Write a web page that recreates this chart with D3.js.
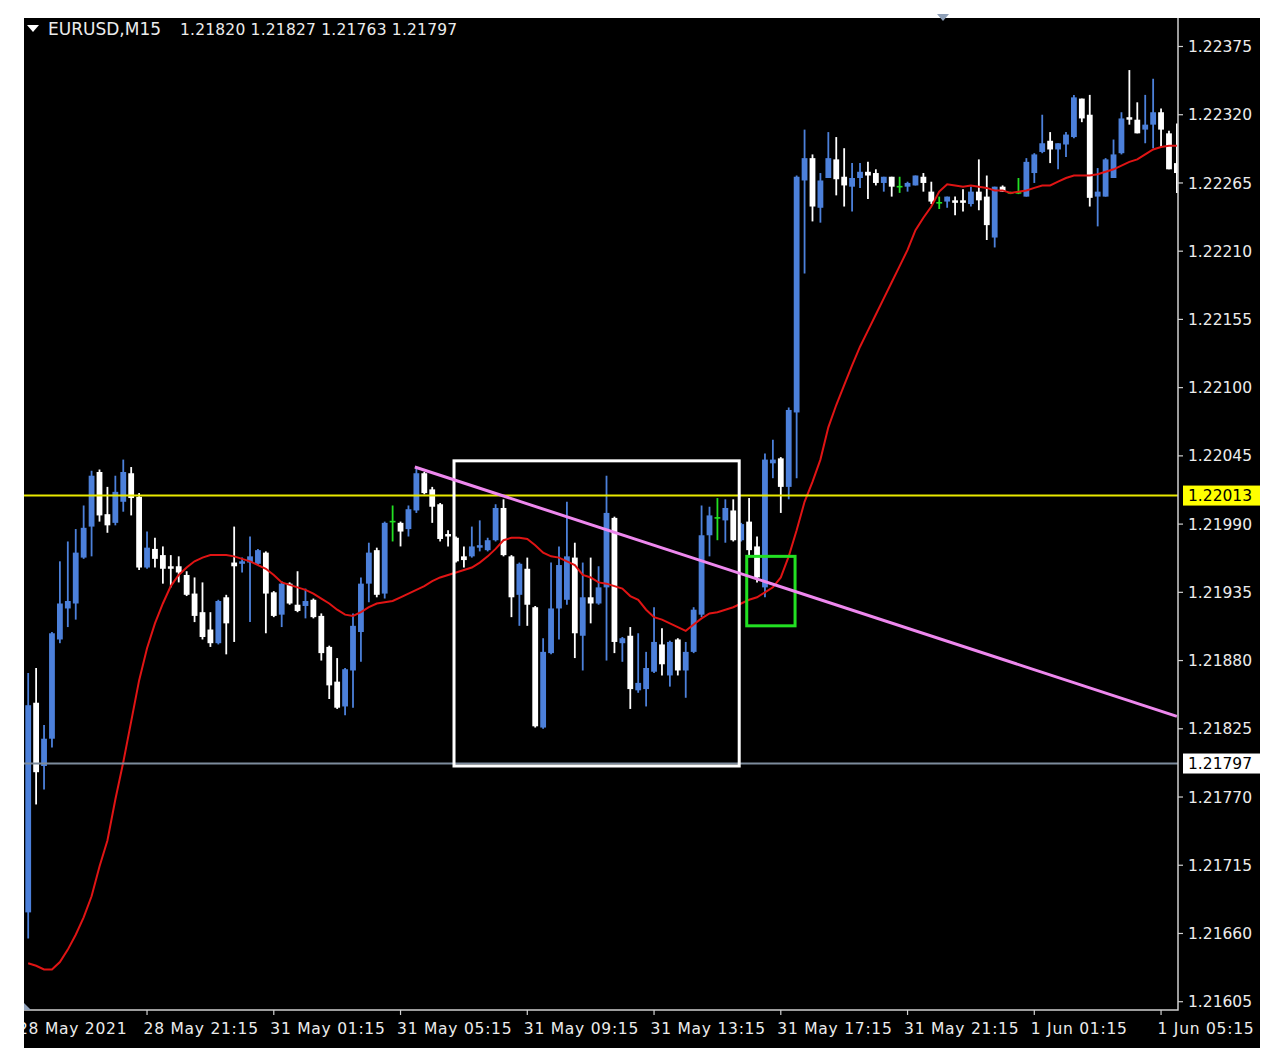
<!DOCTYPE html>
<html><head><meta charset="utf-8">
<script src="https://cdn.jsdelivr.net/npm/d3@7"></script>
<style>body{margin:0;background:#fff;} svg{display:block;} text{white-space:pre;}</style>
</head><body>
<svg id="c" width="1282" height="1064"></svg>
<script>
// ---- data (EURUSD M15, bar index 0 = 28 May 17:30) ----
const opens = [1.21677,1.21846,1.21795,1.21817,1.21897,1.21922,1.21926,1.21963,1.21988,1.22032,
1.21998,1.21991,1.22008,1.22031,1.22012,1.21955,1.21970,1.21965,1.21956,1.21956,
1.21949,1.21934,1.21919,1.21905,1.21894,1.21931,1.21959,1.21958,1.21959,1.21958,
1.21967,1.21935,1.21917,1.21942,1.21925,1.21924,1.21929,1.21916,1.21891,1.21863,
1.21843,1.21872,1.21903,1.21942,1.21969,1.21934,1.21992,1.21991,1.21986,1.22001,
1.22031,1.22018,1.22006,1.21982,1.21979,1.21964,1.21964,1.21971,1.21969,1.21977,
1.22003,1.21964,1.21933,1.21954,1.21923,1.21826,1.21886,1.21922,1.21929,1.21963,
1.21900,1.21931,1.21926,1.21939,1.21995,1.21894,1.21900,1.21856,1.21857,1.21871,
1.21893,1.21868,1.21897,1.21872,1.21887,1.21917,1.21981,1.21995,1.21993,1.22001,
1.21977,1.21992,1.21972,1.21939,1.22039,1.22043,1.22020,1.22080,1.22267,1.22285,
1.22245,1.22269,1.22284,1.22270,1.22262,1.22269,1.22274,1.22273,1.22265,1.22270,
1.22262,1.22262,1.22263,1.22270,1.22258,1.22249,1.22250,1.22251,1.22251,1.22248,
1.22258,1.22254,1.22221,1.22262,1.22257,1.22257,1.22254,1.22273,1.22290,1.22299,
1.22292,1.22296,1.22302,1.22333,1.22320,1.22254,1.22254,1.22269,1.22289,1.22318,
1.22316,1.22308,1.22312,1.22322,1.22305,1.22281];
const highs = [1.21870,1.21874,1.21828,1.21903,1.21960,1.21976,1.21986,1.22005,1.22033,1.22034,
1.22020,1.22029,1.22042,1.22036,1.22015,1.21984,1.21979,1.21972,1.21965,1.21964,
1.21952,1.21947,1.21943,1.21919,1.21929,1.21933,1.21988,1.21963,1.21980,1.21970,
1.21968,1.21936,1.21944,1.21943,1.21952,1.21938,1.21930,1.21918,1.21892,1.21882,
1.21874,1.21918,1.21947,1.21975,1.21971,1.21992,1.22005,1.21992,1.22005,1.22036,
1.22032,1.22020,1.22007,1.21985,1.21980,1.21972,1.21988,1.21993,1.21979,1.22006,
1.22010,1.21965,1.21959,1.21963,1.21924,1.21898,1.21959,1.21972,1.22008,1.21975,
1.21959,1.21963,1.21956,1.22029,1.21996,1.21899,1.21907,1.21902,1.21887,1.21923,
1.21906,1.21896,1.21898,1.21895,1.21923,1.22005,1.22004,1.22011,1.22010,1.22010,
1.21991,1.22011,1.21980,1.22047,1.22058,1.22044,1.22084,1.22271,1.22308,1.22288,
1.22273,1.22306,1.22302,1.22293,1.22281,1.22281,1.22282,1.22276,1.22270,1.22270,
1.22270,1.22266,1.22271,1.22273,1.22266,1.22254,1.22254,1.22254,1.22260,1.22262,
1.22284,1.22271,1.22262,1.22263,1.22258,1.22269,1.22285,1.22289,1.22320,1.22306,
1.22297,1.22306,1.22336,1.22333,1.22336,1.22277,1.22285,1.22300,1.22322,1.22356,
1.22330,1.22336,1.22349,1.22325,1.22307,1.22313];
const lows = [1.21656,1.21764,1.21776,1.21810,1.21894,1.21907,1.21913,1.21962,1.21964,1.21992,
1.21983,1.21989,1.22000,1.21997,1.21953,1.21954,1.21955,1.21942,1.21939,1.21943,
1.21932,1.21911,1.21897,1.21891,1.21893,1.21885,1.21895,1.21951,1.21911,1.21957,
1.21902,1.21915,1.21907,1.21925,1.21919,1.21914,1.21914,1.21880,1.21849,1.21841,
1.21836,1.21842,1.21879,1.21927,1.21931,1.21930,1.21976,1.21972,1.21980,1.21999,
1.22014,1.21991,1.21976,1.21972,1.21959,1.21955,1.21963,1.21968,1.21968,1.21976,
1.21964,1.21915,1.21908,1.21908,1.21826,1.21825,1.21885,1.21897,1.21925,1.21882,
1.21872,1.21910,1.21925,1.21880,1.21886,1.21879,1.21841,1.21854,1.21843,1.21870,
1.21868,1.21859,1.21868,1.21850,1.21886,1.21915,1.21964,1.21977,1.21975,1.21976,
1.21976,1.21965,1.21943,1.21931,1.22027,1.21999,1.22010,1.22027,1.22192,1.22234,
1.22233,1.22269,1.22255,1.22246,1.22242,1.22261,1.22252,1.22263,1.22258,1.22254,
1.22257,1.22258,1.22263,1.22258,1.22248,1.22244,1.22245,1.22239,1.22242,1.22246,
1.22243,1.22219,1.22213,1.22258,1.22256,1.22256,1.22254,1.22265,1.22289,1.22281,
1.22276,1.22286,1.22301,1.22314,1.22246,1.22230,1.22254,1.22269,1.22288,1.22312,
1.22305,1.22297,1.22293,1.22294,1.22276,1.22257];
const closes = [1.21844,1.21790,1.21817,1.21902,1.21926,1.21928,1.21967,1.21987,1.22029,1.21997,
1.21989,1.22016,1.22032,1.22011,1.21955,1.21971,1.21962,1.21954,1.21954,1.21951,
1.21933,1.21916,1.21899,1.21894,1.21928,1.21910,1.21956,1.21960,1.21964,1.21969,
1.21934,1.21916,1.21942,1.21926,1.21920,1.21928,1.21915,1.21886,1.21860,1.21842,
1.21873,1.21908,1.21942,1.21967,1.21933,1.21991,1.21992,1.21984,1.22002,1.22031,
1.22015,1.22004,1.21978,1.21980,1.21960,1.21961,1.21972,1.21973,1.21977,1.22003,
1.21965,1.21931,1.21958,1.21925,1.21827,1.21887,1.21922,1.21957,1.21964,1.21902,
1.21931,1.21926,1.21939,1.21999,1.21895,1.21898,1.21857,1.21862,1.21874,1.21895,
1.21877,1.21895,1.21872,1.21887,1.21921,1.21981,1.21997,1.21995,1.22003,1.21977,
1.21990,1.21969,1.21947,1.22042,1.22042,1.22020,1.22082,1.22270,1.22285,1.22246,
1.22267,1.22285,1.22268,1.22263,1.22269,1.22274,1.22271,1.22265,1.22270,1.22262,
1.22262,1.22265,1.22271,1.22265,1.22250,1.22249,1.22254,1.22249,1.22249,1.22258,
1.22251,1.22231,1.22262,1.22258,1.22257,1.22257,1.22282,1.22288,1.22297,1.22292,
1.22297,1.22304,1.22334,1.22317,1.22253,1.22258,1.22284,1.22288,1.22317,1.22316,
1.22305,1.22312,1.22322,1.22308,1.22276,1.22273];
const maValues = [1.21636,1.21634,1.21631,1.21631,1.21637,1.21647,1.21659,1.21673,1.21690,1.21714,
1.21735,1.21768,1.21798,1.21831,1.21864,1.21890,1.21910,1.21926,1.21940,1.21949,
1.21955,1.21960,1.21963,1.21965,1.21965,1.21965,1.21964,1.21962,1.21960,1.21957,
1.21954,1.21949,1.21943,1.21941,1.21939,1.21937,1.21934,1.21930,1.21926,1.21921,
1.21917,1.21916,1.21919,1.21923,1.21926,1.21927,1.21928,1.21931,1.21934,1.21937,
1.21940,1.21944,1.21947,1.21949,1.21951,1.21953,1.21955,1.21959,1.21964,1.21970,
1.21977,1.21979,1.21979,1.21978,1.21973,1.21967,1.21964,1.21963,1.21960,1.21957,
1.21949,1.21947,1.21943,1.21942,1.21940,1.21938,1.21932,1.21929,1.21921,1.21915,
1.21913,1.21910,1.21907,1.21904,1.21909,1.21914,1.21918,1.21919,1.21921,1.21923,
1.21926,1.21929,1.21931,1.21935,1.21939,1.21947,1.21964,1.21985,1.22008,1.22024,
1.22042,1.22068,1.22086,1.22102,1.22118,1.22133,1.22146,1.22159,1.22172,1.22185,
1.22198,1.22211,1.22227,1.22237,1.22246,1.22258,1.22264,1.22263,1.22262,1.22263,
1.22262,1.22261,1.22259,1.22259,1.22257,1.22258,1.22259,1.22261,1.22263,1.22263,
1.22266,1.22269,1.22271,1.22271,1.22271,1.22272,1.22274,1.22276,1.22279,1.22282,
1.22284,1.22288,1.22292,1.22294,1.22295,1.22295];

const yTickValues = [1.21605,1.21660,1.21715,1.21770,1.21825,1.21880,1.21935,1.21990,1.22045,1.22100,1.22155,1.22210,1.22265,1.22320,1.22375];
const xTickIndex = [15,31,47,63,79,95,111,127,143];
const xTickLabels = ["28 May 21:15","31 May 01:15","31 May 05:15","31 May 09:15","31 May 13:15","31 May 17:15","31 May 21:15","1 Jun 01:15","1 Jun 05:15"];
const firstLabel = "28 May 2021";
const titleSymbol = "EURUSD,M15";
const titlePrices = "1.21820 1.21827 1.21763 1.21797";
const hLinePrices = [1.22013, 1.21797];
const trendIdx = [48.8, 145], trendPrice = [1.22036, 1.21835];
const whiteRectIdx = [53.75, 89.75], whiteRectPrice = [1.22041, 1.21795];
const greenRectIdx = [90.7, 96.8], greenRectPrice = [1.21964, 1.21908];

(function () {
// ---- layout ----
const svg = d3.select('#c');
const L = 24, T = 18, axisX = 1178, axisY = 1010, R = 1260, B = 1048;
const FONT = "'DejaVu Sans',sans-serif";
const FS = 15.5;

svg.append('rect').attr('x', L).attr('y', T).attr('width', R-L).attr('height', B-T).attr('fill', '#000');

const x = d3.scaleLinear().domain([0, 145]).range([28.2, 1176.9]);
const y = d3.scaleLinear().domain([1.21605, 1.22375]).range([1001.7, 46.5]);

const defs = svg.append('defs');
defs.append('clipPath').attr('id','plot').append('rect')
  .attr('x', L).attr('y', T).attr('width', axisX-L).attr('height', axisY-T);
defs.append('clipPath').attr('id','all').append('rect')
  .attr('x', L).attr('y', T).attr('width', R-L).attr('height', B-T);

const plot = svg.append('g').attr('clip-path','url(#plot)');

const BLUE = '#4c80da', WHITE = '#ffffff', GREEN = '#22e022';
const bars = d3.range(opens.length).map(i => ({i, o: opens[i], h: highs[i], l: lows[i], c: closes[i]}));
const col = d => d.c > d.o ? BLUE : (d.c < d.o ? WHITE : GREEN);

// candles
const cg = plot.append('g');
cg.selectAll('line.wick').data(bars).join('line')
  .attr('x1', d => x(d.i)).attr('x2', d => x(d.i))
  .attr('y1', d => y(d.h)).attr('y2', d => y(d.l))
  .attr('stroke', col).attr('stroke-width', 1.8);
const bw = 5.8;
cg.selectAll('rect.body').data(bars).join('rect')
  .attr('x', d => x(d.i) - bw/2).attr('width', bw)
  .attr('y', d => Math.min(y(d.o), y(d.c)) - (d.o === d.c ? 0.8 : 0))
  .attr('height', d => Math.max(1.6, Math.abs(y(d.o) - y(d.c))))
  .attr('fill', col);

// moving average
plot.append('path').datum(maValues)
  .attr('d', d3.line().x((d,i) => x(i)).y(d => y(d)))
  .attr('fill', 'none').attr('stroke', '#e01414').attr('stroke-width', 2);

// horizontal lines
plot.append('line').attr('x1', L).attr('x2', axisX).attr('y1', y(hLinePrices[0])).attr('y2', y(hLinePrices[0]))
  .attr('stroke', '#e8e800').attr('stroke-width', 2);
plot.append('line').attr('x1', L).attr('x2', axisX).attr('y1', y(hLinePrices[1])).attr('y2', y(hLinePrices[1]))
  .attr('stroke', '#7d8b9c').attr('stroke-width', 2);

// rectangles
plot.append('rect')
  .attr('x', x(whiteRectIdx[0])).attr('y', y(whiteRectPrice[0]))
  .attr('width', x(whiteRectIdx[1]) - x(whiteRectIdx[0])).attr('height', y(whiteRectPrice[1]) - y(whiteRectPrice[0]))
  .attr('fill','none').attr('stroke','#ffffff').attr('stroke-width',3);
plot.append('rect')
  .attr('x', x(greenRectIdx[0])).attr('y', y(greenRectPrice[0]))
  .attr('width', x(greenRectIdx[1]) - x(greenRectIdx[0])).attr('height', y(greenRectPrice[1]) - y(greenRectPrice[0]))
  .attr('fill','none').attr('stroke','#22e022').attr('stroke-width',3);

// trend line
plot.append('line')
  .attr('x1', x(trendIdx[0])).attr('y1', y(trendPrice[0]))
  .attr('x2', x(trendIdx[1])).attr('y2', y(trendPrice[1]))
  .attr('stroke', '#ee88ee').attr('stroke-width', 3);

// axes
const AX = '#d0d0d0';
svg.append('path').attr('d', `M${axisX},${T}V${axisY}H${L}`).attr('fill','none').attr('stroke', AX).attr('stroke-width', 1.5);

const ya = svg.append('g');
yTickValues.forEach(v => {
  ya.append('line').attr('x1', axisX).attr('x2', axisX+5).attr('y1', y(v)).attr('y2', y(v)).attr('stroke', AX).attr('stroke-width', 1.2);
  ya.append('text').attr('x', 1188).attr('y', y(v)).attr('dy', '0.36em')
    .attr('fill', '#ececec').attr('font-family', FONT).attr('font-size', FS).text(v.toFixed(5));
});
// price labels
const plab = [[hLinePrices[0], '#ffff00'], [hLinePrices[1], '#ffffff']];
plab.forEach(([v, c]) => {
  ya.append('rect').attr('x', 1183).attr('y', y(v) - 10).attr('width', 77).attr('height', 20).attr('fill', c);
  ya.append('text').attr('x', 1188).attr('y', y(v)).attr('dy', '0.36em')
    .attr('fill', '#000').attr('font-family', FONT).attr('font-size', FS).text(v.toFixed(5));
});

const xa = svg.append('g').attr('clip-path','url(#all)');
xTickIndex.forEach((idx, k) => {
  xa.append('line').attr('x1', x(idx)).attr('x2', x(idx)).attr('y1', axisY).attr('y2', axisY+5).attr('stroke', AX).attr('stroke-width', 1.2);
  xa.append('text').attr('x', x(idx) - 3.5).attr('y', 1028).attr('dy', '0.36em')
    .attr('fill', '#ececec').attr('font-family', FONT).attr('font-size', FS).attr('letter-spacing', 0.75).text(xTickLabels[k]);
});
xa.append('text').attr('x', 18).attr('y', 1028).attr('dy', '0.36em')
  .attr('fill', '#ececec').attr('font-family', FONT).attr('font-size', FS).attr('letter-spacing', 0.75).text(firstLabel);

// title
svg.append('path').attr('d', 'M27,25L39,25L33,32Z').attr('fill', '#ffffff');
const tt = svg.append('text').attr('y', 29).attr('dy', '0.36em')
  .attr('fill', '#ececec').attr('font-family', FONT).attr('font-size', FS);
tt.append('tspan').attr('x', 48).attr('font-size', 17).text(titleSymbol);
tt.append('tspan').attr('x', 180).attr('letter-spacing', 0.2).text(titlePrices);

// small markers
svg.append('path').attr('d', 'M937,14L949,14L943,21Z').attr('fill', '#8fa0b8');
svg.append('path').attr('d', `M${L},1003L${L},${axisY}L${L+7},${axisY}Z`).attr('fill', '#8fa0b8');
})();
</script>
</body></html>
